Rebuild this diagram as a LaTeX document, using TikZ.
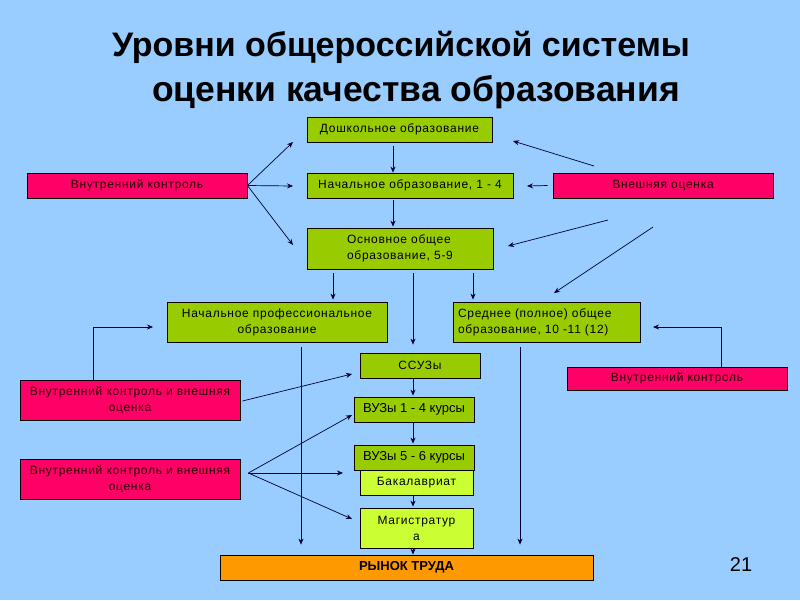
\documentclass[tikz,border=0pt]{standalone}
\usepackage{fontspec}
\setmainfont{Liberation Sans}
\newfontfamily\boxfont[LetterSpace=6]{Liberation Sans}
\usetikzlibrary{arrows.meta,calc}
\definecolor{bgc}{HTML}{99CCFF}
\definecolor{grn}{HTML}{99CC00}
\definecolor{crm}{HTML}{FF0066}
\definecolor{lim}{HTML}{CCFF33}
\definecolor{org}{HTML}{FF9900}
\definecolor{ink}{HTML}{000033}
\tikzset{
  bx/.style={draw=black, line width=0.8pt, inner sep=1pt, align=center, font=\boxfont\fontsize{12}{16}\selectfont, text=black},
  gbox/.style={bx, fill=grn},
  rbox/.style={bx, fill=crm, text={black!85!red}},
  lbox/.style={bx, fill=lim},
  obox/.style={bx, fill=org, font=\bfseries\fontsize{13}{15}\selectfont},
  vbox/.style={gbox, font=\fontsize{13}{15}\selectfont},
  arr/.style={draw=ink, line width=0.7pt, -{Stealth[length=6pt,width=5pt]}},
  ttl/.style={font=\bfseries\fontsize{34}{40}\selectfont, text=black, anchor=base}
}
\begin{document}
\begin{tikzpicture}[x=1pt,y=-1pt]
\fill[bgc] (0,0) rectangle (800,600);
\useasboundingbox (0,0) rectangle (800,600);
% title
\node[ttl] (t1) at (401,56) {Уровни общероссийской системы};
\node[ttl, font=\bfseries\fontsize{35.5}{40}\selectfont] (t2) at (416,101) {оценки качества образования};
% boxes
\node[gbox, minimum width=185, minimum height=25] (dosh) at (399.5,129.5) {Дошкольное образование};
\node[gbox, minimum width=206, minimum height=25] (nach) at (410,185.5) {Начальное образование, 1 - 4};
\node[gbox, minimum width=186, minimum height=41, align=left] (osn) at (400,248.5) {Основное общее\\образование, 5-9};
\node[rbox, minimum width=220, minimum height=25] (vkL) at (137,185.5) {Внутренний контроль};
\node[rbox, minimum width=220, minimum height=25] (vo) at (663,185.5) {Внешняя оценка};
\node[gbox, minimum width=220, minimum height=40] (npo) at (277,322) {Начальное профессиональное\\образование};
\node[gbox, minimum width=187, minimum height=40, text width=177, align=left] (sred) at (546.5,322) {Среднее (полное) общее\\образование, 10 -11 (12)};
\node[gbox, minimum width=120, minimum height=25] (ssuz) at (420,365.5) {ССУЗы};
\node[vbox, minimum width=120, minimum height=25] (vuz14) at (414,409.5) {ВУЗы 1 - 4 курсы};
\node[lbox, minimum width=113, minimum height=25] (bak) at (416.5,482.5) {Бакалавриат};
\node[vbox, minimum width=120, minimum height=25] (vuz56) at (414,457.5) {ВУЗы 5 - 6 курсы};
\node[lbox, minimum width=113, minimum height=40] (mag) at (416.5,528) {Магистратур\\а};
\node[rbox, minimum width=220, minimum height=23] (vkR) at (677,378.5) {Внутренний контроль};
\node[rbox, minimum width=220, minimum height=40] (vkvo1) at (130,400) {Внутренний контроль и внешняя\\оценка};
\node[rbox, minimum width=220, minimum height=40] (vkvo2) at (130,479) {Внутренний контроль и внешняя\\оценка};
\node[obox, minimum width=373, minimum height=25] (ryn) at (406.5,567.5) {РЫНОК ТРУДА};
\node[font=\fontsize{20}{24}\selectfont] (num) at (741,565) {21};
% helper coordinates
\coordinate (x301) at (301,0);
\coordinate (x333) at (333,0);
\coordinate (x393) at (393,0);
\coordinate (x413) at (413,0);
\coordinate (x473) at (473,0);
\coordinate (x520) at (520,0);
\coordinate (x93) at (93,0);
\coordinate (x721) at (721,0);
% internal control left
\coordinate (a1) at (293,142);
\coordinate (a2) at (293,186);
\coordinate (a3) at (293,245);
\draw[arr] (vkL.east) -- (a1);
\draw[arr] (vkL.east) -- (a2);
\draw[arr] (vkL.east) -- (a3);
% vertical chain
\draw[arr] ([yshift=-4pt]dosh.south -| x393) -- (nach.north -| x393);
\draw[arr] ([yshift=-2pt]nach.south -| x393) -- ([yshift=1pt]osn.north -| x393);
% external evaluation
\coordinate (b1s) at (594,166); \coordinate (b1) at (513,141);
\coordinate (b2) at (527,186);
\coordinate (b3s) at (608,220); \coordinate (b3) at (508,246);
\coordinate (b4s) at (653,227); \coordinate (b4) at (554,293);
\draw[arr] (b1s) -- (b1);
\draw[arr] ([xshift=-5pt]vo.west) -- (b2);
\draw[arr] (b3s) -- (b3);
\draw[arr] (b4s) -- (b4);
% from osnovnoe
\draw[arr] ([yshift=-4pt]osn.south -| x333) -- ([yshift=2pt]npo.north -| x333);
\draw[arr] ([yshift=-4pt]osn.south -| x413) -- ([yshift=8pt]ssuz.north -| x413);
\draw[arr] ([yshift=-4pt]osn.south -| x473) -- ([yshift=2pt]sred.north -| x473);
% to market
\draw[arr] ([yshift=-5pt]npo.south -| x301) -- ([yshift=10pt]ryn.north -| x301);
\draw[arr] ([yshift=-5pt]sred.south -| x520) -- ([yshift=10pt]ryn.north -| x520);
% vuz chain
\draw[arr] (ssuz.south -| x413) -- ([yshift=1pt]vuz14.north -| x413);
\draw[arr] (vuz14.south -| x413) -- ([yshift=1pt]vuz56.north -| x413);
\draw[arr] (bak.south -| x413) -- ([yshift=1pt]mag.north -| x413);
\draw[arr] (mag.south -| x413) -- (ryn.north -| x413);
% internal + external 1
\coordinate (c1) at (153,327);
\draw[arr] (vkvo1.north -| x93) |- (c1);
\coordinate (c2) at (352,374);
\draw[arr] ([xshift=2pt,yshift=-1pt]vkvo1.east) -- (c2);
% internal + external 2
\coordinate (d1) at (352,415);
\coordinate (d2) at (343,473);
\coordinate (d3) at (352,519);
\draw[arr] ([xshift=8pt,yshift=6pt]vkvo2.east) -- (d1);
\draw[arr] ([xshift=8pt,yshift=6pt]vkvo2.east) -- (d2);
\draw[arr] ([xshift=8pt,yshift=6pt]vkvo2.east) -- (d3);
% internal control right
\coordinate (e1) at (653,327);
\draw[arr] (vkR.north -| x721) |- (e1);
\end{tikzpicture}
\end{document}
